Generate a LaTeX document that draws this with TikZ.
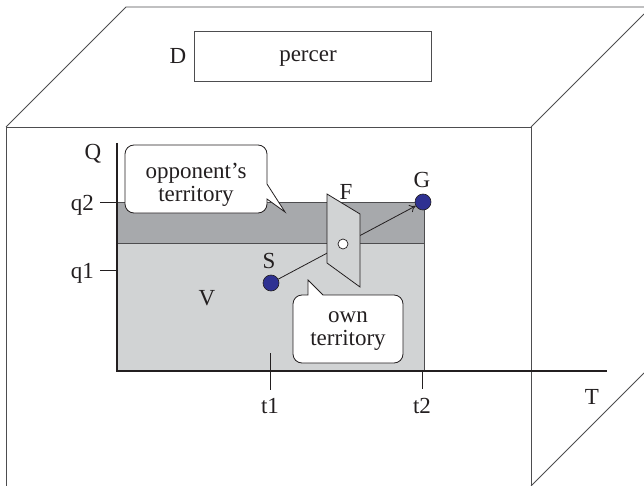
\documentclass[tikz,border=0pt]{standalone}
\usepackage{fontspec}
\setmainfont{Liberation Serif}
\usetikzlibrary{arrows.meta}
\definecolor{ink}{HTML}{231F20}
\definecolor{edgegray}{HTML}{4D4D4F}
\definecolor{darkreg}{HTML}{A7A9AC}
\definecolor{lightreg}{HTML}{D1D3D4}
\definecolor{dotblue}{HTML}{2E3192}
\begin{document}
\begin{tikzpicture}[x=1pt,y=-1pt,
  font=\fontsize{23}{23}\selectfont, text=ink,
  edge/.style={draw=edgegray, line width=0.9pt},
  axisline/.style={draw=ink, line width=1.1pt},
  tick/.style={draw=ink, line width=0.7pt},
  regionline/.style={draw=edgegray, line width=0.9pt},
  callout/.style={draw=ink, fill=white, line width=0.8pt},
  dot/.style={circle, fill=dotblue, draw=ink, line width=0.6pt, minimum size=16pt, inner sep=0pt},
  hole/.style={circle, fill=white, draw=ink, line width=0.7pt, minimum size=10pt, inner sep=0pt},
  lbl/.style={inner sep=0pt},
  arr/.style={draw=ink, line width=0.8pt, -{To[length=6pt,width=8pt]}},
  planestyle/.style={draw=ink, fill=lightreg, line width=0.8pt}]
\useasboundingbox (0,0) rectangle (644,486);
% box
\draw[edge] (6,486) -- (6,127) -- (531,127) -- (531,486);
\draw[edge] (6,127) -- (126,7) -- (644,7);
\draw[edge] (531,127) -- (644,14);
\draw[edge] (531,486) -- (644,373);
% top box
\node[draw=edgegray, line width=0.8pt, minimum width=237pt, minimum height=50pt, inner sep=0pt] (perc) at (312.5,56) {};
\node[lbl] (perctext) at (308,59) {percer};
\node[lbl] (D) at (178,56) {D};
% regions
\fill[lightreg] (117,243) rectangle (424,371);
\fill[darkreg] (117,202) rectangle (424,243);
\draw[regionline] (117,202) rectangle (424,371);
\draw[regionline] (117,243) -- (424,243);
% axes
\draw[axisline] (117,143) -- (117,371) -- (607,371);
\draw[tick] (100,202) -- (117,202);
\draw[tick] (100,270) -- (117,270);
\draw[tick] (270,353) -- (270,390);
\draw[tick] (422,371) -- (422,389);
\node[lbl] (Q) at (93,154) {Q};
\node[lbl, anchor=east] (q2) at (94,205) {q2};
\node[lbl, anchor=east] (q1) at (94,273) {q1};
\node[lbl] (t1) at (270,406) {t1};
\node[lbl] (t2) at (422,406) {t2};
\node[lbl] (T) at (592,397) {T};
\node[lbl] (V) at (207,298) {V};
% callouts
\draw[callout] (285,212) -- (267,199) [rounded corners=9] -- (267,213) -- (125,213) -- (125,145) -- (267,145) [sharp corners] -- (267,184) -- cycle;
\node[lbl, align=center] (opp) at (196,185) {opponent’s\\territory};
\draw[callout] (308,280) -- (323,295) [rounded corners=9] -- (403,295) -- (403,363) -- (293,363) -- (293,295) [sharp corners] -- (308,295) -- cycle;
\node[lbl, align=center] (own) at (348,331) {own\\territory};
% points and arrow
\node[dot] (S) at (271,283) {};
\node[dot] (G) at (423,202) {};
\node[lbl] (Slbl) at (269,261) {S};
\node[lbl] (Glbl) at (422,180) {G};
\draw[arr] (S) -- (G);
% plane
\filldraw[planestyle] (327,194) -- (360,214) -- (360,287) -- (327,263) -- cycle;
\node[hole] (hole) at (343,244) {};
\node[lbl] (F) at (346,192) {F};
\end{tikzpicture}
\end{document}
